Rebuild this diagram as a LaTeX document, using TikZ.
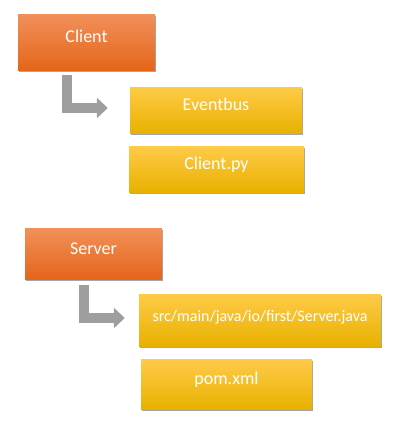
\documentclass[tikz,border=0pt]{standalone}
\usepackage{fontspec}
\setmainfont{Carlito}
\usetikzlibrary{positioning,arrows.meta,shadows}
\definecolor{orangetop}{HTML}{F2905A}
\definecolor{orangebot}{HTML}{E4661A}
\definecolor{yellowtop}{HTML}{FFCB48}
\definecolor{yellowmid}{HTML}{FFC000}
\definecolor{yellowbot}{HTML}{E8B100}
\definecolor{arrowgray}{HTML}{9E9E9E}

\begin{document}
\begin{tikzpicture}[x=1pt, y=-1pt,
    boxshadow/.style={drop shadow={shadow xshift=1pt, shadow yshift=-1.5pt, opacity=0.35, fill=black}},
    parent/.style={boxshadow, top color=orangetop, bottom color=orangebot, text=white,
        font=\fontsize{18pt}{20pt}\selectfont, text height=13pt, text depth=11.6pt,
        minimum width=137pt, inner sep=0pt},
    child/.style={boxshadow, top color=yellowtop, middle color=yellowmid, bottom color=yellowbot, text=white,
        font=\fontsize{18pt}{20pt}\selectfont, text height=13pt, text depth=11.6pt,
        inner sep=0pt},
    flow/.style={arrowgray, line width=10pt, -{Triangle[width=20pt,length=11pt]}}]
    \useasboundingbox (0,0) rectangle (408,447);

    % Nodes
    \node[parent, minimum height=56pt] (client) at (86.5,42) {Client};
    \node[child, minimum width=172pt, minimum height=46pt] (eventbus) at (216,110) {Eventbus};
    \node[child, minimum width=175pt, minimum height=46pt] (clientpy) at (216.5,169) {Client.py};

    \node[parent, minimum height=51pt] (server) at (93.5,253.5) {Server};
    \node[child, minimum width=242pt, minimum height=52pt, font=\fontsize{16pt}{18pt}\selectfont,
        text height=12pt, text depth=10pt] (serverjava) at (260,320) {src/main/java/io/first/Server.java};
    \node[child, minimum width=171pt, minimum height=50pt] (pom) at (226.5,384) {pom.xml};

    % Arrows
    \coordinate (clientbend) at (66.5,75);
    \coordinate (serverbend) at (83.5,285);
    \draw[flow, shorten >=22pt] (clientbend) |- ([yshift=2pt]eventbus.west);
    \draw[flow, shorten >=14pt] (serverbend) |- ([yshift=2pt]serverjava.west);
\end{tikzpicture}
\end{document}
